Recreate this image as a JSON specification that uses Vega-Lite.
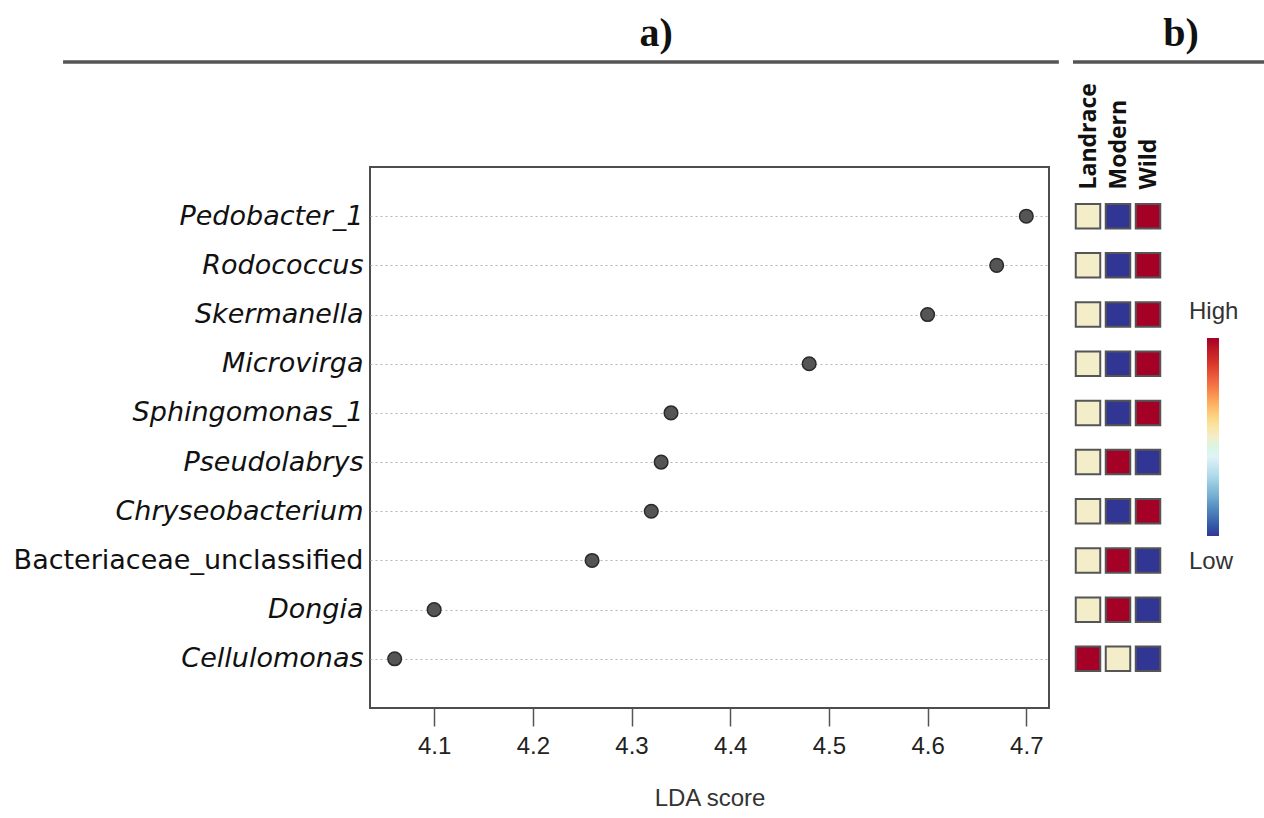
{
  "$schema": "https://vega.github.io/schema/vega-lite/v6.json",
  "padding": {"left": 12, "top": 12, "right": 0, "bottom": 0},
  "background": "white",
  "config": {"view": {"stroke": null}, "font": "Liberation Sans"},
  "datasets": {
    "lda": [
      {"taxon": "Pedobacter_1", "lda": 4.70},
      {"taxon": "Rodococcus", "lda": 4.67},
      {"taxon": "Skermanella", "lda": 4.60},
      {"taxon": "Microvirga", "lda": 4.48},
      {"taxon": "Sphingomonas_1", "lda": 4.34},
      {"taxon": "Pseudolabrys", "lda": 4.33},
      {"taxon": "Chryseobacterium", "lda": 4.32},
      {"taxon": "Bacteriaceae_unclassified", "lda": 4.26},
      {"taxon": "Dongia", "lda": 4.10},
      {"taxon": "Cellulomonas", "lda": 4.06}
    ],
    "abundance": [
      {"taxon": "Pedobacter_1", "group": "Landrace", "level": 0.5},
      {"taxon": "Pedobacter_1", "group": "Modern", "level": 0},
      {"taxon": "Pedobacter_1", "group": "Wild", "level": 1},
      {"taxon": "Rodococcus", "group": "Landrace", "level": 0.5},
      {"taxon": "Rodococcus", "group": "Modern", "level": 0},
      {"taxon": "Rodococcus", "group": "Wild", "level": 1},
      {"taxon": "Skermanella", "group": "Landrace", "level": 0.5},
      {"taxon": "Skermanella", "group": "Modern", "level": 0},
      {"taxon": "Skermanella", "group": "Wild", "level": 1},
      {"taxon": "Microvirga", "group": "Landrace", "level": 0.5},
      {"taxon": "Microvirga", "group": "Modern", "level": 0},
      {"taxon": "Microvirga", "group": "Wild", "level": 1},
      {"taxon": "Sphingomonas_1", "group": "Landrace", "level": 0.5},
      {"taxon": "Sphingomonas_1", "group": "Modern", "level": 0},
      {"taxon": "Sphingomonas_1", "group": "Wild", "level": 1},
      {"taxon": "Pseudolabrys", "group": "Landrace", "level": 0.5},
      {"taxon": "Pseudolabrys", "group": "Modern", "level": 1},
      {"taxon": "Pseudolabrys", "group": "Wild", "level": 0},
      {"taxon": "Chryseobacterium", "group": "Landrace", "level": 0.5},
      {"taxon": "Chryseobacterium", "group": "Modern", "level": 0},
      {"taxon": "Chryseobacterium", "group": "Wild", "level": 1},
      {"taxon": "Bacteriaceae_unclassified", "group": "Landrace", "level": 0.5},
      {"taxon": "Bacteriaceae_unclassified", "group": "Modern", "level": 1},
      {"taxon": "Bacteriaceae_unclassified", "group": "Wild", "level": 0},
      {"taxon": "Dongia", "group": "Landrace", "level": 0.5},
      {"taxon": "Dongia", "group": "Modern", "level": 1},
      {"taxon": "Dongia", "group": "Wild", "level": 0},
      {"taxon": "Cellulomonas", "group": "Landrace", "level": 1},
      {"taxon": "Cellulomonas", "group": "Modern", "level": 0.5},
      {"taxon": "Cellulomonas", "group": "Wild", "level": 0}
    ]
  },
  "columns": 2,
  "bounds": "flush",
  "align": "each",
  "spacing": {"row": 105, "column": 24},
  "concat": [
    {
      "width": 679,
      "height": 50,
      "data": {"values": [{"panel": "a)"}]},
      "layer": [
        {
          "mark": {"type": "rule", "color": "#555555", "strokeWidth": 3.5},
          "encoding": {
            "x": {"datum": 3.724, "type": "quantitative", "scale": {"domain": [4.035, 4.723], "nice": false, "zero": false}, "axis": null},
            "x2": {"datum": 4.733},
            "y": {"datum": 0, "type": "quantitative", "scale": {"domain": [0, 1], "nice": false}, "axis": null}
          }
        },
        {
          "mark": {"type": "text", "font": "Liberation Serif", "fontSize": 40, "fontWeight": "bold", "baseline": "alphabetic", "align": "center", "color": "#111111"},
          "encoding": {
            "text": {"field": "panel"},
            "x": {"datum": 4.325, "type": "quantitative"},
            "y": {"datum": 0.32, "type": "quantitative"}
          }
        }
      ]
    },
    {
      "width": 192,
      "height": 50,
      "data": {"values": [{"panel": "b)"}]},
      "layer": [
        {
          "mark": {"type": "rule", "color": "#555555", "strokeWidth": 3.5},
          "encoding": {
            "y": {"datum": 0, "type": "quantitative", "scale": {"domain": [0, 1], "nice": false}, "axis": null}
          }
        },
        {
          "mark": {"type": "text", "font": "Liberation Serif", "fontSize": 40, "fontWeight": "bold", "baseline": "alphabetic", "align": "center", "dx": 12, "color": "#111111"},
          "encoding": {
            "text": {"field": "panel"},
            "y": {"datum": 0.32, "type": "quantitative"}
          }
        }
      ]
    },
    {
      "width": 679,
      "height": 541,
      "view": {"stroke": "#4d4d4d", "strokeWidth": 2},
      "data": {"name": "lda"},
      "mark": {"type": "circle", "size": 185, "fill": "#555555", "stroke": "#2a2a2a", "strokeWidth": 1.5, "opacity": 1},
      "encoding": {
        "x": {
          "field": "lda",
          "type": "quantitative",
          "scale": {"domain": [4.035, 4.723], "nice": false, "zero": false},
          "axis": {
            "values": [4.1, 4.2, 4.3, 4.4, 4.5, 4.6, 4.7],
            "format": ".1f",
            "domain": false,
            "grid": false,
            "ticks": true,
            "tickSize": 18,
            "tickColor": "#555555",
            "tickWidth": 1.5,
            "labelFont": "Liberation Sans",
            "labelFontSize": 24,
            "labelColor": "#222222",
            "labelPadding": 8,
            "title": "LDA score",
            "titleFont": "Liberation Sans",
            "titleFontSize": 24,
            "titleFontWeight": "normal",
            "titleColor": "#333333",
            "titlePadding": 28
          }
        },
        "y": {
          "field": "taxon",
          "type": "nominal",
          "sort": null,
          "scale": {"padding": 1},
          "axis": {
            "title": null,
            "domain": false,
            "ticks": false,
            "labelFont": "DejaVu Sans",
            "labelFontSize": 27,
            "labelFontStyle": {"condition": {"test": "datum.value === 'Bacteriaceae_unclassified'", "value": "normal"}, "value": "italic"},
            "labelColor": "#111111",
            "labelPadding": 7,
            "labelLimit": 600,
            "grid": true,
            "gridDash": [2, 3],
            "gridColor": "#b5b5b5",
            "gridWidth": 1.2
          }
        }
      }
    },
    {
      "width": 90,
      "height": 541,
      "data": {"name": "abundance"},
      "mark": {"type": "square", "size": 600, "filled": true, "stroke": "#555555", "strokeWidth": 2, "opacity": 1},
      "encoding": {
        "x": {
          "field": "group",
          "type": "nominal",
          "sort": null,
          "scale": {"padding": 0.5},
          "axis": {
            "orient": "top",
            "labelAngle": -90,
            "title": null,
            "domain": false,
            "ticks": false,
            "labelPadding": 0,
            "offset": -22,
            "labelFont": "Open Sans",
            "labelFontWeight": "bold",
            "labelFontSize": 23,
            "labelColor": "#111111"
          }
        },
        "y": {"field": "taxon", "type": "nominal", "sort": null, "scale": {"padding": 1}, "axis": null},
        "color": {
          "field": "level",
          "type": "quantitative",
          "scale": {
            "domain": [0, 0.1, 0.2, 0.3, 0.4, 0.5, 0.58, 0.67, 0.77, 0.88, 1],
            "range": ["#313695", "#4575b4", "#74add1", "#abd9e9", "#e0f3f8", "#f3edca", "#fee090", "#fdae61", "#f46d43", "#d73027", "#a50026"]
          },
          "legend": {
            "orient": "none",
            "legendX": 837,
            "legendY": 326,
            "direction": "vertical",
            "title": null,
            "padding": 0,
            "gradientLength": 198,
            "gradientThickness": 12,
            "gradientStrokeWidth": 0,
            "values": [-0.19, 1.19],
            "labelExpr": "datum.value > 0.5 ? 'High' : 'Low'",
            "labelOffset": -30,
            "labelFont": "Liberation Sans",
            "labelFontSize": 24,
            "labelColor": "#333333"
          }
        }
      }
    }
  ]
}
